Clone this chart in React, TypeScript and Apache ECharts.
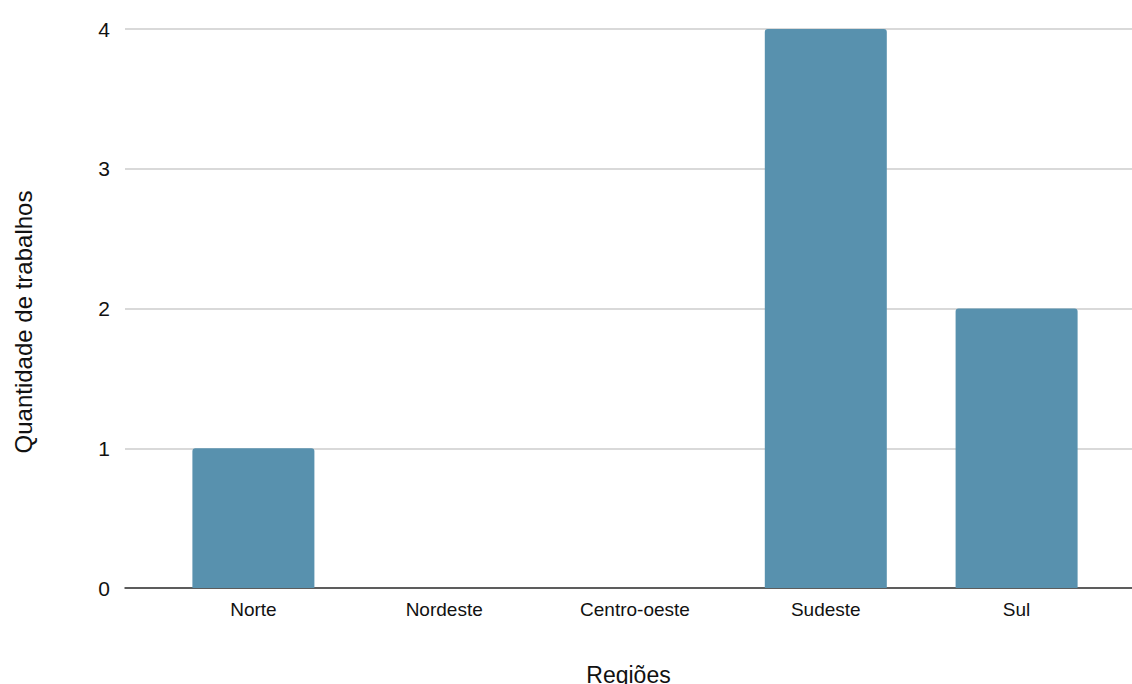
import React, { useEffect, useRef } from "react";
import * as echarts from "echarts";

const categories = ["Norte", "Nordeste", "Centro-oeste", "Sudeste", "Sul"];
const values = [1, 0, 0, 4, 2];
const yTicks = [0, 1, 2, 3, 4];
const xTitle = "Regiões";
const yTitle = "Quantidade de trabalhos";

export default function App() {
  const ref = useRef<HTMLDivElement>(null);
  useEffect(() => {
    document.body.style.margin = "0";
    const chart = echarts.init(ref.current!, null, { renderer: "svg" });
    const font = "Liberation Sans, Arial, sans-serif";
    chart.setOption({
      animation: false,
      backgroundColor: "#ffffff",
      grid: [
        { left: 125, right: 0, top: 29, bottom: 96, outerBoundsMode: "none", containLabel: false },
        { left: 158, right: 20, top: 29, bottom: 96, outerBoundsMode: "none", containLabel: false },
      ],
      graphic: [
        {
          type: "text",
          x: 23,
          y: 322,
          rotation: Math.PI / 2,
          style: {
            text: yTitle,
            fontFamily: font,
            fontSize: 24,
            fill: "#111",
            align: "center",
            verticalAlign: "middle",
          },
        },
      ],
      xAxis: [
        {
          gridIndex: 0,
          type: "value",
          min: 0,
          max: 1,
          name: xTitle,
          nameLocation: "middle",
          nameGap: 75,
          nameTextStyle: { fontFamily: font, fontSize: 23, color: "#111" },
          axisLine: { show: true, lineStyle: { color: "#333", width: 1.5 } },
          axisTick: { show: false },
          axisLabel: { show: false },
          splitLine: { show: false },
        },
        {
          gridIndex: 1,
          type: "category",
          data: categories,
          axisLine: { show: false },
          axisTick: { show: false },
          axisLabel: {
            fontFamily: font,
            fontSize: 19,
            color: "#111",
            margin: 12,
          },
        },
      ],
      yAxis: [
        {
          gridIndex: 0,
          type: "value",
          min: yTicks[0],
          max: yTicks[yTicks.length - 1],
          interval: 1,
          axisLine: { show: false },
          axisTick: { show: false },
          axisLabel: {
            fontFamily: font,
            fontSize: 21,
            color: "#111",
            margin: 15,
          },
          splitLine: { show: true, lineStyle: { color: "#cccccc", width: 1.5 } },
        },
        {
          gridIndex: 1,
          type: "value",
          min: 0,
          max: 4,
          interval: 1,
          show: false,
          splitLine: { show: false },
        },
      ],
      series: [
        {
          type: "bar",
          xAxisIndex: 1,
          yAxisIndex: 1,
          data: values,
          barWidth: 122,
          itemStyle: { color: "#5891ae", borderRadius: [3, 3, 0, 0] },
        },
      ],
    });
    return () => chart.dispose();
  }, []);
  return (
    <div
      ref={ref}
      style={{ position: "absolute", left: 0, top: 0, width: 1132, height: 684 }}
    />
  );
}
